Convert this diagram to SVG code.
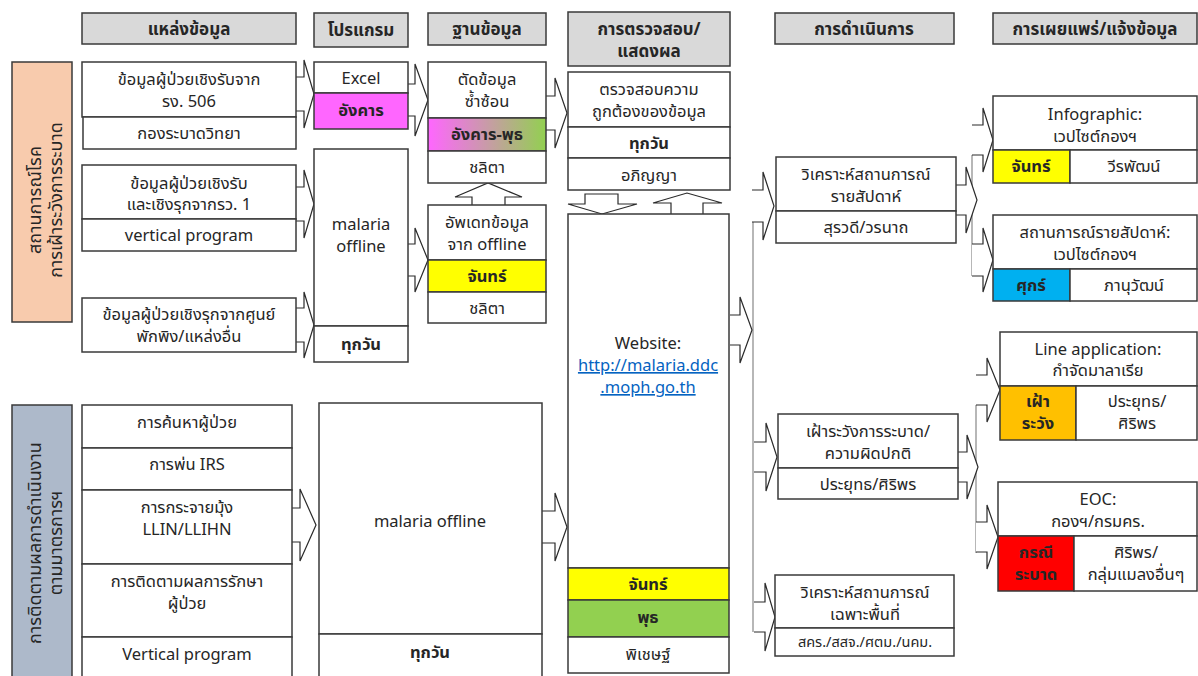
<svg xmlns="http://www.w3.org/2000/svg" width="1198" height="676" viewBox="0 0 1198 676">
<style>
text{font-family:Tahoma,"Noto Sans Thai","Noto Sans","DejaVu Sans",sans-serif;font-size:16.5px;fill:#262626;text-anchor:middle}
.b{font-weight:bold}
.h{font-weight:bold;font-size:17px}
.s{font-size:14.5px}
.v{font-size:18px}
.box{fill:#fff;stroke:#3a3a3a;stroke-width:1.5}
.hd{fill:#d9d9d9;stroke:#3a3a3a;stroke-width:1.5}
.arr{fill:#fff;stroke:#2a2a2a;stroke-width:1.2;stroke-linejoin:miter}
.ln{fill:none;stroke:#a0a0a0;stroke-width:1.5}
.lk{fill:#0563c1;text-decoration:underline}
</style>
<defs>
<linearGradient id="g1" x1="0" y1="0" x2="1" y2="0">
<stop offset="0" stop-color="#ff66ff"/><stop offset="1" stop-color="#92d050"/>
</linearGradient>
</defs>
<rect width="1198" height="676" fill="#fff"/>

<g id="headers">
<rect class="hd" x="82" y="13" width="214" height="31"/><text class="h" x="189" y="35">แหล่งข้อมูล</text>
<rect class="hd" x="314" y="13" width="94" height="34"/><text class="h" x="361" y="36">โปรแกรม</text>
<rect class="hd" x="428" y="13" width="118" height="32"/><text class="h" x="487" y="35">ฐานข้อมูล</text>
<rect class="hd" x="568" y="12" width="162" height="54"/><text class="h" x="649" y="35">การตรวจสอบ/</text><text class="h" x="649" y="57">แสดงผล</text>
<rect class="hd" x="775" y="13" width="179" height="31"/><text class="h" x="864" y="35">การดำเนินการ</text>
<rect class="hd" x="993" y="13" width="204" height="31"/><text class="h" x="1095" y="35">การเผยแพร่/แจ้งข้อมูล</text>
</g>

<g id="side-labels">
<rect x="12" y="62" width="60" height="260" fill="#f8cbad" stroke="#3a3a3a" stroke-width="1.5"/>
<g transform="translate(42,200) rotate(-90)"><text class="v" x="0" y="-1">สถานการณ์โรค</text><text class="v" x="0" y="20">การเฝ้าระวังการระบาด</text></g>
<rect x="12" y="405" width="60" height="275" fill="#adb9ca" stroke="#3a3a3a" stroke-width="1.5"/>
<g transform="translate(42,543) rotate(-90)"><text class="v" x="0" y="-1">การติดตามผลการดำเนินงาน</text><text class="v" x="0" y="20">ตามมาตรการฯ</text></g>
</g>

<g id="connectors">
<path class="ln" d="M753,222 V632 M972,155 V276 M976,405 V553"/>
<path class="arr" d="M296,77 H304 V60 L314,94 L304,128 V111 H296"/>
<path class="arr" d="M296,187 H304 V170 L314,204 L304,238 V221 H296"/>
<path class="arr" d="M296,308 H304 V292 L314,325 L304,358 V342 H296"/>
<path class="arr" d="M408,84 H415 V64 L428,100 L415,136 V116 H408"/>
<path class="arr" d="M408,244 H415 V228 L428,260 L415,292 V276 H408"/>
<path class="arr" d="M546,96 H555 V78 L567,113 L555,148 V130 H546"/>
<path class="arr" d="M292,508 H300 V489 L316,525 L300,561 V542 H292"/>
<path class="arr" d="M542,511 H555 V493 L567,527 L555,561 V543 H542"/>
<path class="arr" d="M730,315 H740 V297 L752,330 L740,363 V345 H730"/>
<path class="arr" d="M752,190 H763 V172 L774,206 L763,240 V222 H752"/>
<path class="arr" d="M754,442 H766 V423 L777,457 L766,491 V472 H754"/>
<path class="arr" d="M754,602 H765 V583 L775,617 L765,651 V632 H754"/>
<path class="arr" d="M954,185 H966 V167 L977,200 L966,233 V215 H954"/>
<path class="arr" d="M972,125 H983 V108 L993,140 L983,172 V155 H972"/>
<path class="arr" d="M972,244 H983 V228 L993,260 L983,292 V276 H972"/>
<path class="arr" d="M954,452 H967 V435 L978,467 L967,499 V482 H954"/>
<path class="arr" d="M976,375 H987 V358 L1000,390 L987,422 V405 H976"/>
<path class="arr" d="M976,522 H987 V505 L998,537 L987,569 V552 H976"/>
<path class="arr" d="M472,205 V197 H455 L488,183 L522,197 H505 V205"/>
<path class="arr" d="M585,194 V204 H568 L602,214 L637,204 H618 V194 Z"/>
<path class="arr" d="M671,214 V203 H653 L687,193 L722,203 H703 V214"/>
</g>

<g id="src1">
<rect class="box" x="82" y="62" width="214" height="55"/><text x="189" y="85">ข้อมูลผู้ป่วยเชิงรับจาก</text><text x="189" y="107">รง. 506</text>
<rect class="box" x="83" y="117" width="213" height="32"/><text x="189" y="139">กองระบาดวิทยา</text>
</g>
<g id="src2">
<rect class="box" x="82" y="165" width="214" height="54"/><text x="189" y="189">ข้อมูลผู้ป่วยเชิงรับ</text><text x="189" y="210">และเชิงรุกจากรว. 1</text>
<rect class="box" x="82" y="219" width="214" height="32"/><text x="189" y="241">vertical program</text>
</g>
<g id="src3">
<rect class="box" x="82" y="298" width="214" height="54"/><text x="189" y="320">ข้อมูลผู้ป่วยเชิงรุกจากศูนย์</text><text x="189" y="342">พักพิง/แหล่งอื่น</text>
</g>
<g id="measures">
<rect class="box" x="82" y="405" width="210" height="43"/><text x="187" y="428">การค้นหาผู้ป่วย</text>
<rect class="box" x="82" y="448" width="210" height="42"/><text x="187" y="470">การพ่น IRS</text>
<rect class="box" x="82" y="490" width="210" height="74"/><text x="187" y="513">การกระจายมุ้ง</text><text x="187" y="535">LLIN/LLIHN</text>
<rect class="box" x="82" y="564" width="210" height="73"/><text x="187" y="587">การติดตามผลการรักษา</text><text x="187" y="609">ผู้ป่วย</text>
<rect class="box" x="82" y="637" width="210" height="45"/><text x="187" y="660">Vertical program</text>
</g>

<g id="prog-excel">
<rect class="box" x="314" y="62" width="94" height="31"/><text x="361" y="84">Excel</text>
<rect x="314" y="93" width="94" height="36" fill="#ff66ff" stroke="#3a3a3a" stroke-width="1.5"/><text class="b" x="361" y="116">อังคาร</text>
</g>
<g id="prog-offline">
<rect class="box" x="314" y="149" width="94" height="177"/><text x="361" y="230">malaria</text><text x="361" y="252">offline</text>
<rect class="box" x="314" y="326" width="94" height="36"/><text class="b" x="361" y="350">ทุกวัน</text>
</g>
<g id="prog-offline2">
<rect class="box" x="319" y="403" width="223" height="231"/><text x="430" y="527">malaria offline</text>
<rect class="box" x="319" y="634" width="223" height="48"/><text class="b" x="430" y="658">ทุกวัน</text>
</g>

<g id="db-dedup">
<rect class="box" x="428" y="62" width="118" height="56"/><text x="487" y="85">ตัดข้อมูล</text><text x="487" y="107">ซ้ำซ้อน</text>
<rect x="428" y="118" width="118" height="33" fill="url(#g1)" stroke="#3a3a3a" stroke-width="1.5"/><text class="b" x="487" y="140">อังคาร-พุธ</text>
<rect class="box" x="428" y="151" width="118" height="32"/><text x="487" y="173">ชลิตา</text>
</g>
<g id="db-update">
<rect class="box" x="428" y="205" width="118" height="55"/><text x="487" y="228">อัพเดทข้อมูล</text><text x="487" y="250">จาก offline</text>
<rect x="428" y="260" width="118" height="32" fill="#ffff00" stroke="#3a3a3a" stroke-width="1.5"/><text class="b" x="487" y="282">จันทร์</text>
<rect class="box" x="428" y="292" width="118" height="31"/><text x="487" y="314">ชลิตา</text>
</g>

<g id="check">
<rect class="box" x="568" y="72" width="162" height="55"/><text x="649" y="95">ตรวจสอบความ</text><text x="649" y="117">ถูกต้องของข้อมูล</text>
<rect class="box" x="568" y="127" width="162" height="31"/><text class="b" x="649" y="149">ทุกวัน</text>
<rect class="box" x="568" y="158" width="162" height="32"/><text x="649" y="181">อภิญญา</text>
</g>
<g id="website">
<rect class="box" x="568" y="214" width="161" height="354"/>
<text x="648" y="349">Website:</text><text class="lk" x="648" y="371">http://malaria.ddc</text><text class="lk" x="648" y="393">.moph.go.th</text>
<rect x="568" y="568" width="161" height="32" fill="#ffff00" stroke="#3a3a3a" stroke-width="1.5"/><text class="b" x="648" y="590">จันทร์</text>
<rect x="568" y="600" width="161" height="37" fill="#92d050" stroke="#3a3a3a" stroke-width="1.5"/><text class="b" x="648" y="623">พุธ</text>
<rect class="box" x="568" y="637" width="161" height="36"/><text x="648" y="660">พิเชษฐ์</text>
</g>

<g id="op-weekly">
<rect class="box" x="776" y="157" width="180" height="54"/><text x="866" y="180">วิเคราะห์สถานการณ์</text><text x="866" y="202">รายสัปดาห์</text>
<rect class="box" x="776" y="211" width="180" height="32"/><text x="866" y="233">สุรวดี/วรนาถ</text>
</g>
<g id="op-surveil">
<rect class="box" x="778" y="414" width="180" height="54"/><text x="868" y="437">เฝ้าระวังการระบาด/</text><text x="868" y="459">ความผิดปกติ</text>
<rect class="box" x="778" y="468" width="180" height="31"/><text x="868" y="490">ประยุทธ/ศิริพร</text>
</g>
<g id="op-area">
<rect class="box" x="775" y="575" width="179" height="53"/><text x="865" y="598">วิเคราะห์สถานการณ์</text><text x="865" y="620">เฉพาะพื้นที่</text>
<rect class="box" x="775" y="628" width="179" height="28"/><text class="s" x="865" y="647">สคร./สสจ./ศตม./นคม.</text>
</g>

<g id="pub-info">
<rect class="box" x="993" y="96" width="204" height="54"/><text x="1095" y="120">Infographic:</text><text x="1095" y="142">เวปไซต์กองฯ</text>
<rect x="993" y="150" width="77" height="33" fill="#ffff00" stroke="#3a3a3a" stroke-width="1.5"/><text class="b" x="1031" y="172">จันทร์</text>
<rect class="box" x="1070" y="150" width="127" height="33"/><text x="1134" y="172">วีรพัฒน์</text>
</g>
<g id="pub-weekly">
<rect class="box" x="993" y="215" width="204" height="54"/><text x="1095" y="238">สถานการณ์รายสัปดาห์:</text><text x="1095" y="260">เวปไซต์กองฯ</text>
<rect x="993" y="269" width="77" height="32" fill="#00b0f0" stroke="#3a3a3a" stroke-width="1.5"/><text class="b" x="1031" y="291">ศุกร์</text>
<rect class="box" x="1070" y="269" width="127" height="32"/><text x="1134" y="291">ภานุวัฒน์</text>
</g>
<g id="pub-line">
<rect class="box" x="1000" y="332" width="197" height="54"/><text x="1098" y="355">Line application:</text><text x="1098" y="376">กำจัดมาลาเรีย</text>
<rect x="1000" y="386" width="76" height="54" fill="#ffc000" stroke="#3a3a3a" stroke-width="1.5"/><text class="b" x="1038" y="407">เฝ้า</text><text class="b" x="1038" y="429">ระวัง</text>
<rect class="box" x="1076" y="386" width="121" height="54"/><text x="1137" y="407">ประยุทธ/</text><text x="1137" y="429">ศิริพร</text>
</g>
<g id="pub-eoc">
<rect class="box" x="998" y="482" width="199" height="54"/><text x="1098" y="505">EOC:</text><text x="1098" y="527">กองฯ/กรมคร.</text>
<rect x="998" y="536" width="76" height="55" fill="#ff0000" stroke="#3a3a3a" stroke-width="1.5"/><text class="b" x="1036" y="558">กรณี</text><text class="b" x="1036" y="580">ระบาด</text>
<rect class="box" x="1074" y="536" width="123" height="55"/><text x="1136" y="558">ศิริพร/</text><text x="1136" y="580">กลุ่มแมลงอื่นๆ</text>
</g>
</svg>
